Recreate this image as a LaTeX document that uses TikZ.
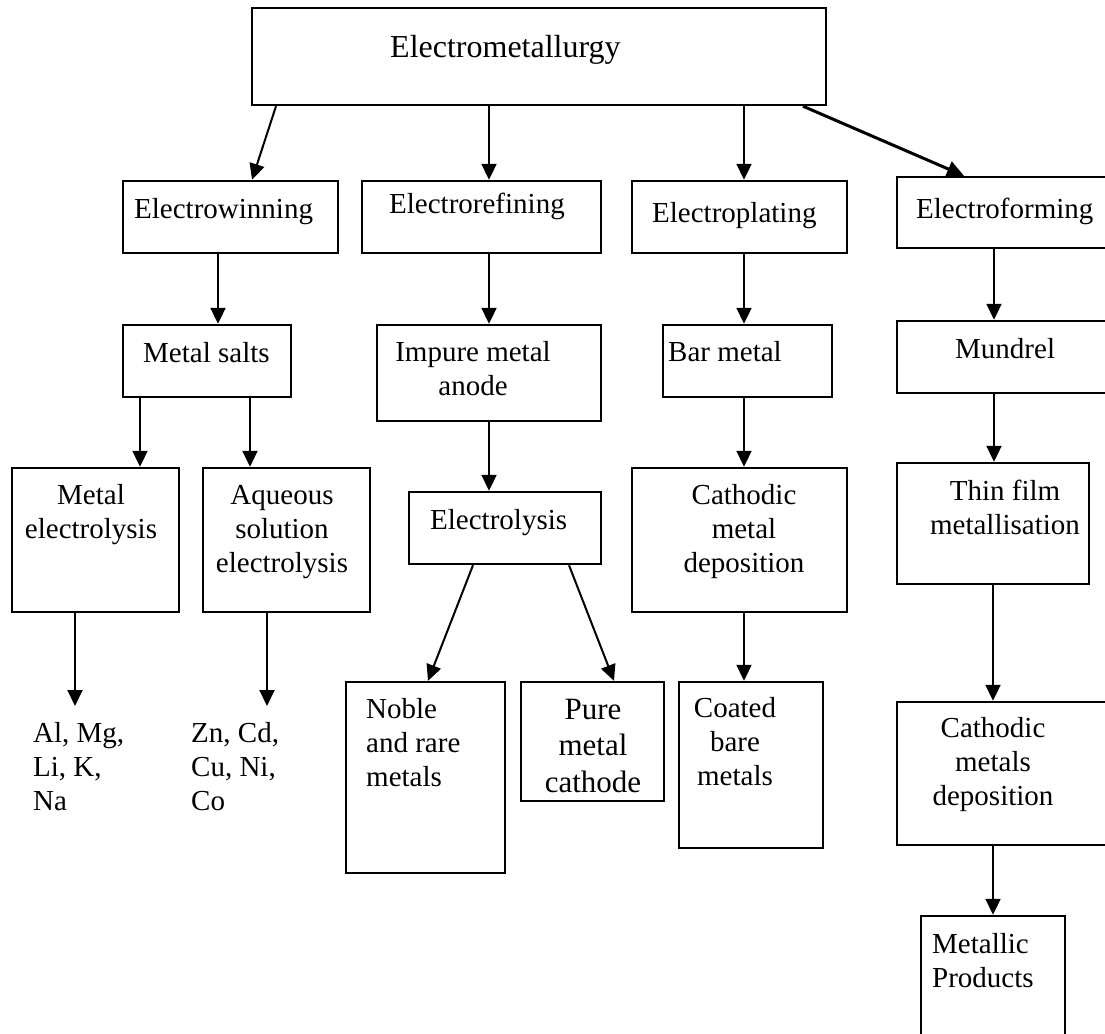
\documentclass[tikz,border=0pt]{standalone}
\usepackage{fontspec}
\setmainfont{Liberation Serif}
\usetikzlibrary{arrows.meta}
\newcommand\mylines[2]{\begin{tabular}[t]{@{}#1@{}}#2\end{tabular}}
\begin{document}
\begin{tikzpicture}[x=1pt,y=-1pt,
  box/.style={draw, line width=2.4pt, inner sep=0pt},
  txt/.style={inner sep=0pt, font=\fontsize{29}{34}\selectfont},
  arr/.style={line width=2pt, -{Triangle[length=16pt,width=15pt]}},
  thickarr/.style={line width=3pt, -{Triangle[length=17pt,width=16pt]}}]
\useasboundingbox[fill=white] (0,0) rectangle (1105,1033);

% boxes
\node[box, minimum width=574pt, minimum height=97pt] (top) at (539,56.5) {};
\node[box, minimum width=215pt, minimum height=72pt] (ew) at (230.5,217) {};
\node[box, minimum width=239pt, minimum height=72pt] (er) at (481.5,217) {};
\node[box, minimum width=215pt, minimum height=72pt] (ep) at (739.5,217) {};
\node[box, minimum width=211pt, minimum height=71pt] (ef) at (1002.5,212.5) {};
\node[box, minimum width=168pt, minimum height=72pt] (ms) at (207,361) {};
\node[box, minimum width=224pt, minimum height=96pt] (ima) at (489,373) {};
\node[box, minimum width=169pt, minimum height=72pt] (bm) at (747.5,361) {};
\node[box, minimum width=211pt, minimum height=72pt] (mu) at (1002.5,357) {};
\node[box, minimum width=167pt, minimum height=144pt] (me) at (95.5,540) {};
\node[box, minimum width=167pt, minimum height=144pt] (ae) at (286.5,540) {};
\node[box, minimum width=192pt, minimum height=72pt] (el) at (505,528) {};
\node[box, minimum width=215pt, minimum height=144pt] (cmd) at (739.5,540) {};
\node[box, minimum width=192pt, minimum height=121pt] (tf) at (993,523.5) {};
\node[box, minimum width=159pt, minimum height=191pt] (nr) at (425.5,777.5) {};
\node[box, minimum width=143pt, minimum height=119pt] (pm) at (592.5,741.5) {};
\node[box, minimum width=144pt, minimum height=166pt] (cb) at (751,765) {};
\node[box, minimum width=211pt, minimum height=143pt] (cmsd) at (1002.5,773.5) {};
\node[box, minimum width=144pt, minimum height=129pt] (mp) at (993,980.5) {};

% texts
\node[txt, font=\fontsize{32}{38}\selectfont, anchor=base west] (t-top) at (390,57) {Electrometallurgy};
\node[txt, anchor=base west] (t-ew) at (134,218) {Electrowinning};
\node[txt, anchor=base west] (t-er) at (389,213) {Electrorefining};
\node[txt, anchor=base west] (t-ep) at (652,222) {Electroplating};
\node[txt, anchor=base west] (t-ef) at (916,218) {Electroforming};
\node[txt, anchor=base west] (t-ms) at (143,362) {Metal salts};
\node[txt, anchor=base] (t-ima) at (473,361) {\mylines{c}{Impure metal\\anode}};
\node[txt, anchor=base west] (t-bm) at (668,361) {Bar metal};
\node[txt, anchor=base west] (t-mu) at (955,358) {Mundrel};
\node[txt, anchor=base] (t-me) at (91,504) {\mylines{c}{Metal\\electrolysis}};
\node[txt, anchor=base] (t-ae) at (282,504) {\mylines{c}{Aqueous\\solution\\electrolysis}};
\node[txt, anchor=base west] (t-el) at (430,529) {Electrolysis};
\node[txt, anchor=base] (t-cmd) at (744,504) {\mylines{c}{Cathodic\\metal\\deposition}};
\node[txt, anchor=base] (t-tf) at (1005,500) {\mylines{c}{Thin film\\metallisation}};
\node[txt, anchor=base west] (t-nr) at (366,718) {\mylines{l}{Noble\\and rare\\metals}};
\node[txt, font=\fontsize{31}{36.5}\selectfont, anchor=base] (t-pm) at (593,719) {\mylines{c}{Pure\\metal\\cathode}};
\node[txt, anchor=base] (t-cb) at (735,717) {\mylines{c}{Coated\\bare\\metals}};
\node[txt, anchor=base] (t-cmsd) at (993,737) {\mylines{c}{Cathodic\\metals\\deposition}};
\node[txt, anchor=base west] (t-mp) at (932,953) {\mylines{l}{Metallic\\Products}};
\node[txt, anchor=base west] (al) at (33,742) {\mylines{l}{Al, Mg,\\Li, K,\\Na}};
\node[txt, anchor=base west] (zn) at (191,742) {\mylines{l}{Zn, Cd,\\Cu, Ni,\\Co}};
\coordinate (alTip) at (75,706);
\coordinate (znTip) at (267,706);

% connectors
\draw[arr] ([xshift=-263pt]top.south) -- ([xshift=21.5pt]ew.north);
\draw[arr] ([xshift=-50pt]top.south) -- ([xshift=7.5pt]er.north);
\draw[arr] ([xshift=205pt]top.south) -- ([xshift=4.5pt]ep.north);
\draw[thickarr] ([xshift=264pt]top.south) -- ([xshift=-38.5pt]ef.north);
\draw[arr] ([xshift=-12.5pt]ew.south) -- ([xshift=11pt]ms.north);
\draw[arr] ([xshift=7.5pt]er.south) -- (ima.north);
\draw[arr] ([xshift=4.5pt]ep.south) -- ([xshift=-3.5pt]bm.north);
\draw[arr] ([xshift=-8.5pt]ef.south) -- ([xshift=-8.5pt]mu.north);
\draw[arr] ([xshift=-67pt]ms.south) -- ([xshift=44.5pt]me.north);
\draw[arr] ([xshift=43pt]ms.south) -- ([xshift=-36.5pt]ae.north);
\draw[arr] (ima.south) -- ([xshift=-16pt]el.north);
\draw[arr] ([xshift=-3.5pt]bm.south) -- ([xshift=4.5pt]cmd.north);
\draw[arr] ([xshift=-8.5pt]mu.south) -- ([xshift=1pt]tf.north);
\draw[arr] ([xshift=-20.5pt]me.south) -- (alTip);
\draw[arr] ([xshift=-19.5pt]ae.south) -- (znTip);
\draw[arr] ([xshift=-32pt]el.south) -- ([xshift=2.5pt]nr.north);
\draw[arr] ([xshift=64pt]el.south) -- ([xshift=21.5pt]pm.north);
\draw[arr] ([xshift=4.5pt]cmd.south) -- ([xshift=-7pt]cb.north);
\draw[arr] (tf.south) -- ([xshift=-9.5pt]cmsd.north);
\draw[arr] ([xshift=-9.5pt]cmsd.south) -- (mp.north);
\end{tikzpicture}
\end{document}
